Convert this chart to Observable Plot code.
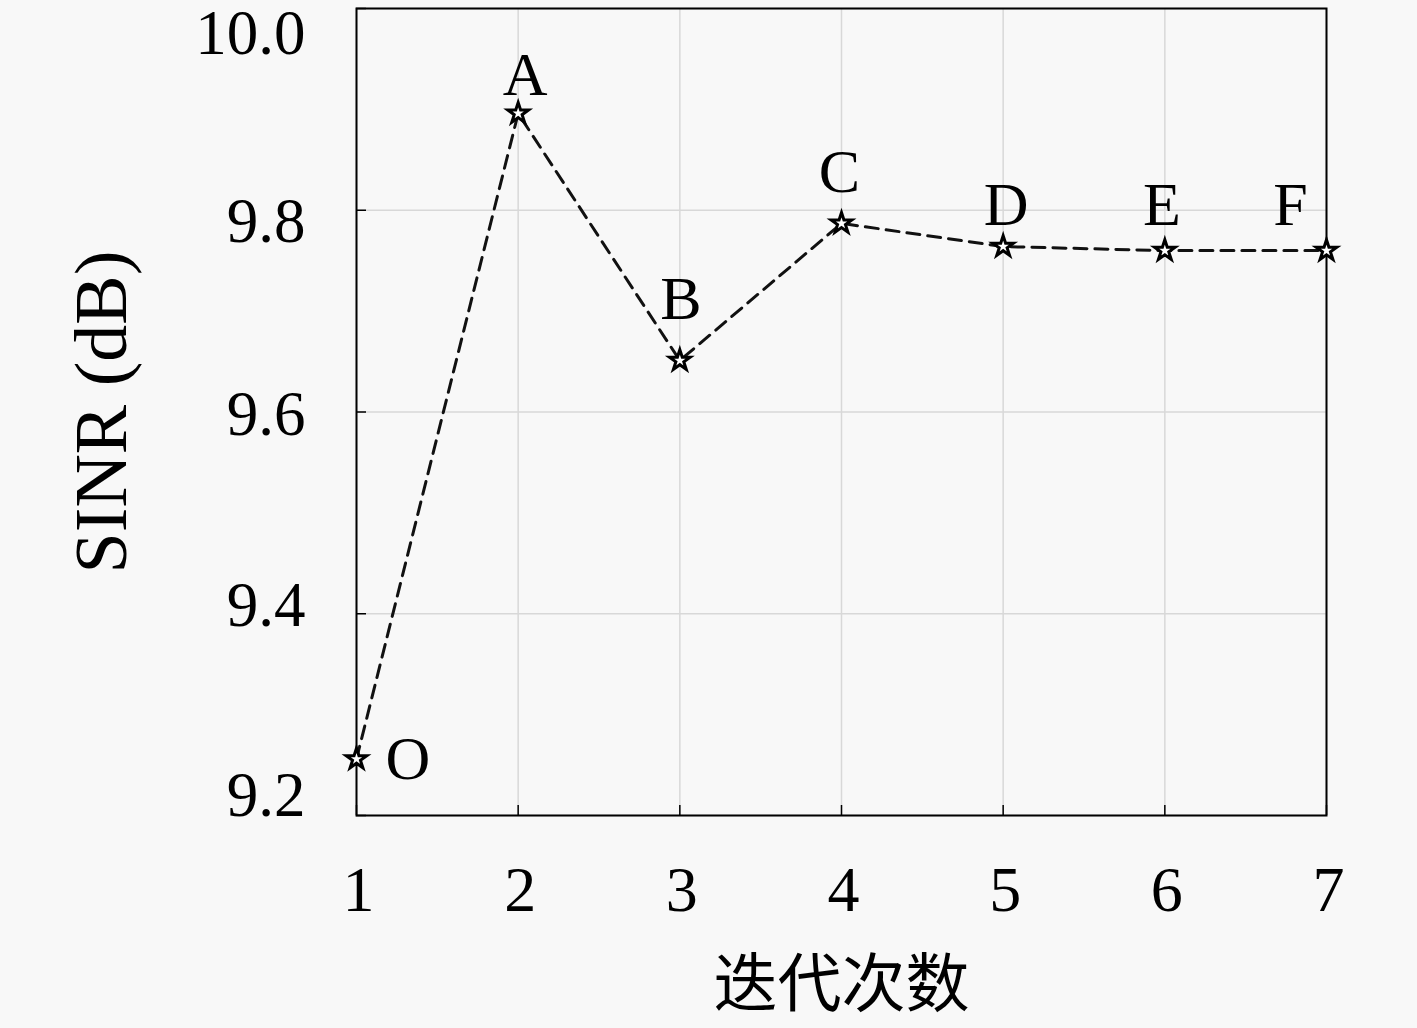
<!DOCTYPE html>
<html>
<head>
<meta charset="utf-8">
<script src="https://cdn.jsdelivr.net/npm/d3@7"></script>
<script src="https://cdn.jsdelivr.net/npm/@observablehq/plot@0.6"></script>
<style>
  html, body { margin: 0; padding: 0; background: #f8f8f8; }
  #chart svg { display: block; }
</style>
</head>
<body>
<div id="chart"></div>
<script>
// iteration number vs SINR
const iterations = [1, 2, 3, 4, 5, 6, 7];
const sinrDb = [9.256, 9.896, 9.651, 9.787, 9.764, 9.760, 9.760];
const pointNames = ["O", "A", "B", "C", "D", "E", "F"];
const yTicks = [9.2, 9.4, 9.6, 9.8, 10.0];
const xLabel = "迭代次数";
const yLabel = "SINR (dB)";

const rows = iterations.map((it, i) => ({ it, v: sinrDb[i], name: pointNames[i] }));

// label nudges (px) so letters sit where the original put them
const nudge = {
  O: { dx: 29, dy: 0, anchor: "start", line: "middle" },
  A: { dx: 7, dy: -18, anchor: "middle", line: "bottom" },
  B: { dx: 1, dy: -42, anchor: "middle", line: "bottom" },
  C: { dx: -2, dy: -31, anchor: "middle", line: "bottom" },
  D: { dx: 3, dy: -22, anchor: "middle", line: "bottom" },
  E: { dx: -3, dy: -26, anchor: "middle", line: "bottom" },
  F: { dx: -36, dy: -26, anchor: "middle", line: "bottom" }
};

// the original's y tick labels drift off their ticks toward the middle
const yLabelShift = { 9.2: -20, 9.4: -8, 9.6: 3, 9.8: 12, 10: 25 };

const serif = "'Liberation Serif', 'DejaVu Serif', serif";

const labelMarks = rows.map(d => {
  const n = nudge[d.name];
  return Plot.text([d], {
    x: "it", y: "v", text: "name",
    dx: n.dx, dy: n.dy,
    textAnchor: n.anchor, lineAnchor: n.line,
    fontSize: 62, fontFamily: serif, fill: "black"
  });
});

const yTickLabels = yTicks.map(t =>
  Plot.axisY([t], {
    tickSize: 0, tickPadding: 51, fontSize: 63, label: null,
    dy: yLabelShift[t], tickFormat: d3.format(".1f")
  })
);

const chart = Plot.plot({
  width: 1417,
  height: 1028,
  marginLeft: 356,
  marginRight: 91,
  marginTop: 8,
  marginBottom: 213,
  style: { background: "#f8f8f8", fontFamily: serif, color: "black" },
  x: { domain: [1, 7] },
  y: { domain: [9.2, 10.0] },
  marks: [
    Plot.gridX(iterations, { stroke: "#d8d8d8", strokeOpacity: 1, strokeWidth: 1.5 }),
    Plot.gridY(yTicks, { stroke: "#d8d8d8", strokeOpacity: 1, strokeWidth: 1.5 }),
    // small inward tick marks
    Plot.axisX(iterations, { tickSize: -10, text: null, label: null, strokeWidth: 1.5 }),
    Plot.axisY(yTicks, { tickSize: -10, text: null, label: null, strokeWidth: 1.5 }),
    Plot.axisX(iterations, { tickSize: 0, tickPadding: 50, dx: 2, fontSize: 64, label: null, tickFormat: d => d }),
    ...yTickLabels,
    Plot.frame({ stroke: "black", strokeWidth: 2 }),
    Plot.line(rows, {
      x: "it", y: "v",
      stroke: "#111", strokeWidth: 3, strokeDasharray: "13,8"
    }),
    Plot.dot(rows, {
      x: "it", y: "v", symbol: "star", r: 6.5,
      stroke: "black", strokeWidth: 3, fill: "white"
    }),
    ...labelMarks,
    Plot.text([yLabel], {
      frameAnchor: "left", dx: -231, rotate: -90,
      lineAnchor: "bottom", textAnchor: "middle",
      fontSize: 74, fontFamily: serif, fill: "black"
    }),
    Plot.text([xLabel], {
      frameAnchor: "bottom", dy: 170,
      lineAnchor: "middle", textAnchor: "middle",
      fontSize: 64, fontFamily: "'Noto Sans CJK SC', sans-serif", fill: "black"
    })
  ]
});

document.getElementById("chart").appendChild(chart);
</script>
</body>
</html>
